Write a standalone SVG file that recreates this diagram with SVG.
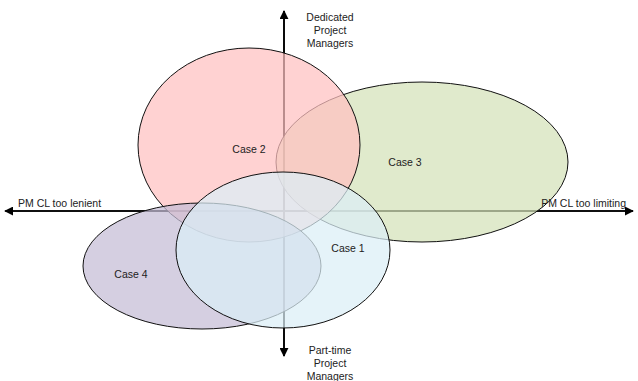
<svg xmlns="http://www.w3.org/2000/svg" width="638" height="381" viewBox="0 0 638 381">
<style>
text{font-family:"Liberation Sans",Arial,sans-serif;font-size:10.5px;fill:#222}
.c{text-anchor:middle}
.ax{stroke:#000;stroke-width:1.6;fill:none}
.el{stroke:#111;stroke-width:1;fill-opacity:0.72}
</style>
<defs>
<marker id="ah" viewBox="0 0 10 10" refX="9" refY="5" markerWidth="9" markerHeight="9" markerUnits="userSpaceOnUse" orient="auto"><path d="M0,0 L10,5 L0,10 z" fill="#000"/></marker>
</defs>
<rect width="638" height="381" fill="#fff"/>
<g id="connectors">
<line class="ax" x1="284" y1="356" x2="284" y2="11" marker-end="url(#ah)"/>
<line class="ax" x1="284" y1="11" x2="284" y2="356" marker-end="url(#ah)"/>
<line class="ax" x1="8" y1="211" x2="633" y2="211" marker-end="url(#ah)"/>
<line class="ax" x1="633" y1="211" x2="5" y2="211" marker-end="url(#ah)"/>
</g>
<g id="case3"><ellipse class="el" cx="422" cy="162" rx="146" ry="80" fill="#d4e2b8"/><text class="c" x="405" y="166">Case 3</text></g>
<g id="case2"><ellipse class="el" cx="249" cy="145" rx="111" ry="97" fill="#ffc0c0"/><text class="c" x="249" y="153">Case 2</text></g>
<g id="case4"><ellipse class="el" cx="202" cy="266" rx="119" ry="63" fill="#c5bcd6"/><text class="c" x="131" y="278">Case 4</text></g>
<g id="case1"><ellipse class="el" cx="283" cy="250" rx="107" ry="78" fill="#dbeff6"/><text class="c" x="348" y="252">Case 1</text></g>
<g id="labels">
<text class="c" x="330" y="21">Dedicated</text>
<text class="c" x="330" y="34">Project</text>
<text class="c" x="330" y="47">Managers</text>
<text class="c" x="330" y="354">Part-time</text>
<text class="c" x="330" y="367">Project</text>
<text class="c" x="330" y="380">Managers</text>
<text x="18" y="207">PM CL too lenient</text>
<text x="626" y="207" text-anchor="end">PM CL too limiting</text>
</g>
</svg>
